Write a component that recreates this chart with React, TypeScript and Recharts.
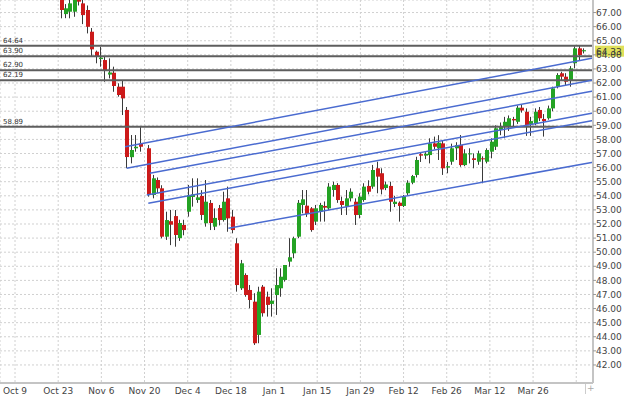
import React from 'react';
import { ComposedChart, Bar, XAxis, YAxis, CartesianGrid, ReferenceLine } from 'recharts';

// Daily candles, one slot per trading day (null = no bar in that slot)
const OPEN: (number | null)[] = [
  68.6, 66.89, 67.06, 67.06, 68.3, 67.65, 67.18, 65.64, 64.22, 63.7,
  63.63, 62.6, 62.73, 61.74, 61.74, 60.09, 56.74, 57.37, 57.72, null,
  57.37, 54.06, 55.12, 54.53, 51.1, 52.2, 52.56, 51.0, 51.93, 52.87,
  53.92, 53.7, 53.99, 52.05, 53.49, 51.81, 53.13, 52.28, 53.82, 52.52,
  50.63, 47.44, 48.38, 47.32, 46.49, 44.13, 47.55, 46.84, 46.33, 46.96,
  47.44, 48.03, 49.33, 49.92, 51.1, 53.35, 53.3, 53.11, 52.17, 52.88,
  53.28, 53.11, 54.41, 54.77, 53.63, 53.23, 53.82, 53.58, 52.64, 53.7,
  54.7, 54.65, 55.95, 55.6, 54.55, 54.7, 53.42, 53.51, 53.28, 54.18,
  54.93, 55.48, 56.95, 56.85, 56.89, 57.72, 57.37, 57.72, 56.0, 56.42,
  57.37, 57.6, 56.18, 56.95, 56.66, 56.42, 56.66, 56.42, 57.13, 57.48,
  58.67, 58.95, 58.9, 59.45, 59.25, 60.25, 59.96, 59.1, 59.14, 60.09,
  59.45, 59.5, 60.2, 61.74, 62.69, 62.45, 62.21, 63.4, 64.46, 64.25,
];
const HIGH: (number | null)[] = [
  69.0, 67.6, 67.9, 68.4, 68.5, 68.0, 67.5, 65.9, 64.3, 64.57,
  63.87, 63.75, 63.16, 61.98, 62.21, 60.3, 58.31, 58.31, 58.89, null,
  57.6, 55.48, 55.3, 54.75, 52.87, 53.0, 52.99, 52.3, 52.3, 54.77,
  55.24, 55.24, 54.4, 55.12, 53.7, 53.11, 53.35, 54.29, 54.65, 52.99,
  50.99, 49.45, 48.5, 47.67, 47.09, 47.55, 47.67, 47.2, 47.44, 48.86,
  48.86, 49.09, 50.99, 51.1, 53.7, 54.41, 54.41, 53.2, 53.35, 53.5,
  53.6, 54.9, 55.0, 54.9, 53.94, 54.41, 54.53, 53.82, 54.18, 54.89,
  55.1, 56.19, 56.42, 55.95, 55.0, 55.0, 54.0, 53.6, 54.06, 55.1,
  55.48, 56.77, 57.1, 57.1, 58.08, 58.2, 58.3, 57.9, 56.4, 57.7,
  57.8, 58.31, 57.3, 57.37, 57.0, 57.2, 56.8, 57.37, 58.08, 59.0,
  59.2, 59.6, 59.7, 59.6, 60.4, 60.44, 60.2, 59.6, 60.2, 60.3,
  59.8, 60.4, 61.74, 62.7, 62.8, 62.7, 63.2, 64.6, 64.64, 64.46,
];
const LOW: (number | null)[] = [
  66.59, 66.6, 66.59, 66.7, 67.5, 66.18, 65.52, 63.87, 63.4, 63.16,
  62.09, 62.33, 61.38, 61.03, 59.73, 55.97, 56.3, 57.13, 57.13, null,
  53.94, 53.82, 54.2, 50.98, 50.87, 50.5, 50.39, 50.8, 51.2, 52.52,
  53.23, 53.5, 52.28, 51.81, 51.57, 51.57, 51.9, 52.17, 51.45, 51.34,
  47.2, 47.32, 46.84, 46.02, 43.42, 43.54, 45.43, 45.43, 45.43, 45.55,
  46.84, 47.91, 48.97, 49.57, 50.99, 52.76, 52.5, 51.45, 51.93, 52.17,
  52.17, 52.99, 53.94, 53.5, 52.64, 52.64, 53.6, 51.93, 52.4, 53.58,
  54.1, 54.5, 54.18, 54.1, 54.4, 52.87, 53.2, 52.17, 53.2, 54.06,
  54.82, 55.3, 56.4, 56.6, 56.3, 57.3, 56.54, 55.48, 55.6, 56.2,
  56.54, 56.06, 56.1, 56.3, 55.95, 56.2, 54.89, 56.3, 56.66, 57.25,
  58.3, 58.08, 58.6, 58.9, 59.1, 59.9, 58.25, 58.25, 59.0, 59.3,
  58.2, 59.4, 60.0, 61.62, 62.2, 61.86, 61.74, 63.04, 63.63, 64.1,
];
const CLOSE: (number | null)[] = [
  67.18, 67.3, 67.65, 68.1, 67.77, 66.82, 65.99, 64.39, 63.87, 63.8,
  62.92, 62.75, 61.79, 61.15, 60.91, 56.75, 57.25, 57.48, 57.48, null,
  54.06, 55.24, 54.53, 51.1, 52.28, 51.95, 51.22, 52.07, 51.57, 54.06,
  54.1, 53.89, 52.64, 53.58, 52.07, 52.43, 52.28, 53.58, 52.4, 51.57,
  47.67, 49.21, 46.96, 46.61, 43.54, 47.2, 45.67, 46.26, 46.56, 47.67,
  48.26, 49.09, 49.64, 50.99, 53.5, 53.75, 52.71, 51.57, 53.11, 53.35,
  53.16, 54.65, 54.77, 53.7, 53.35, 53.82, 54.29, 52.64, 53.94, 54.65,
  54.29, 55.83, 55.36, 54.45, 54.8, 53.58, 53.58, 53.28, 53.94, 54.93,
  55.4, 56.54, 56.85, 56.98, 57.72, 57.48, 57.77, 55.95, 56.1, 57.37,
  57.6, 56.18, 57.01, 57.01, 56.54, 57.01, 56.6, 57.25, 57.84, 58.79,
  58.95, 59.25, 59.5, 59.35, 60.25, 60.05, 59.02, 59.3, 59.96, 59.5,
  59.3, 60.2, 61.62, 62.57, 62.45, 62.09, 63.04, 64.46, 63.99, 64.33,
];

const TICK_LABELS = ['Oct 9', 'Oct 23', 'Nov 6', 'Nov 20', 'Dec 4', 'Dec 18', 'Jan 1', 'Jan 15', 'Jan 29', 'Feb 12', 'Feb 26', 'Mar 12', 'Mar 26', ''];
const TICK_SLOTS = TICK_LABELS.map((_, k) => -10.41 + 9.834 * k);
const Y_TICKS = [42, 43, 44, 45, 46, 47, 48, 49, 50, 51, 52, 53, 54, 55, 56, 57, 58, 59, 60, 61, 62, 63, 64, 65, 66, 67];

// horizontal price levels
const LEVELS = [64.64, 63.9, 62.9, 62.19, 58.89];
// trend channel lines: [startSlot, startPrice, endSlot, endPrice]
const TRENDLINES = [
  [14.65, 57.48, 121.25, 63.77],
  [15.0, 55.95, 121.25, 62.21],
  [20.3, 55.6, 121.25, 61.43],
  [19.6, 54.06, 121.25, 59.87],
  [19.95, 53.47, 121.25, 59.34],
  [38.2, 51.7, 121.25, 56.38],
];
const LAST = 64.33;

const X_DOMAIN: [number, number] = [-13.83, 121.25];
const Y_DOMAIN: [number, number] = [40.72, 67.89];

const data = OPEN.map((o, i) => ({ slot: i, o, h: HIGH[i], l: LOW[i], c: CLOSE[i] })).filter((d) => d.o !== null);

const RED = '#cc1a1a';
const GREEN = '#24a324';
const FONT = 'DejaVu Sans';

const Candle = (props: any) => {
  const { x, y, width, height, payload } = props;
  if (!payload || x == null) return null;
  const { o, h, l, c } = payload;
  const top = Math.min(y, y + height);
  const span = Math.abs(height);
  const ratio = h - l === 0 ? 0 : span / (h - l);
  const n = Math.round(x + width / 2);
  const yO = top + (h - o) * ratio;
  const yC = top + (h - c) * ratio;
  const bt = Math.min(yO, yC);
  const bh = Math.max(1, Math.abs(yO - yC));
  return (
    <g>
      <line x1={n + 0.5} x2={n + 0.5} y1={top} y2={top + span} stroke="#3a3a3a" strokeWidth={1} />
      <rect x={n - 1} y={bt} width={4} height={bh} fill={c >= o ? GREEN : RED} />
    </g>
  );
};

const LastLabel = (props: any) => {
  const { viewBox } = props;
  if (!viewBox) return null;
  const x = viewBox.x + viewBox.width + 2;
  const y = viewBox.y;
  return (
    <g>
      <rect x={x} y={y - 4.5} width={29} height={11} fill="#e0e05a" />
      <text x={x + 1} y={y + 4.5} fontSize={9} fontFamily={FONT} fill="#333">
        {LAST.toFixed(2)}
      </text>
    </g>
  );
};

export default function App() {
  return (
    <div style={{ position: 'absolute', left: 0, top: 0, width: 625, height: 397, background: '#fff' }}>
      <ComposedChart width={625} height={397} data={data} margin={{ top: 0, right: 0, bottom: 0, left: 0 }}>
        <CartesianGrid stroke="#d0d0d0" strokeDasharray="2 2" />
        <XAxis
          dataKey="slot"
          type="number"
          domain={X_DOMAIN}
          allowDataOverflow
          ticks={TICK_SLOTS}
          interval={0}
          tickFormatter={(_v: number, i: number) => TICK_LABELS[i]}
          height={14}
          tickLine={false}
          tickSize={3}
          tickMargin={2}
          axisLine={{ stroke: '#c4c4c4', strokeWidth: 2 }}
          tick={{ fontSize: 9, fontFamily: FONT, fill: '#444' }}
        />
        <YAxis
          orientation="right"
          type="number"
          domain={Y_DOMAIN}
          allowDataOverflow
          ticks={Y_TICKS}
          interval={0}
          width={32}
          tickFormatter={(v: number) => v.toFixed(2)}
          tickSize={3}
          tickMargin={0}
          tickLine={{ stroke: '#999' }}
          axisLine={{ stroke: '#c4c4c4', strokeWidth: 2 }}
          tick={{ fontSize: 9, fontFamily: FONT, fill: '#444', textAnchor: 'start' }}
        />
        {LEVELS.map((v) => (
          <ReferenceLine
            key={v}
            y={v}
            stroke="#5e5e5e"
            strokeWidth={2}
            label={{ value: v.toFixed(2), position: 'insideBottomLeft', offset: 3, fontSize: 7, fontFamily: FONT, fill: '#333' }}
          />
        ))}
        {TRENDLINES.map((t, i) => (
          <ReferenceLine
            key={'t' + i}
            segment={[{ x: t[0], y: t[1] }, { x: t[2], y: t[3] }]}
            stroke="#4a6bd0"
            strokeWidth={1.5}
            ifOverflow="visible"
          />
        ))}
        <Bar dataKey={(d: any) => [d.l, d.h]} barSize={4} shape={<Candle />} isAnimationActive={false} />
        <ReferenceLine y={LAST} stroke="none" label={<LastLabel />} />
      </ComposedChart>
      <div style={{ position: 'absolute', left: 585, top: 384, width: 1, height: 10, background: '#ccc' }} />
      <div style={{ position: 'absolute', left: 587, top: 383, fontSize: 9, fontFamily: FONT, color: '#aaa' }}>+</div>
    </div>
  );
}
